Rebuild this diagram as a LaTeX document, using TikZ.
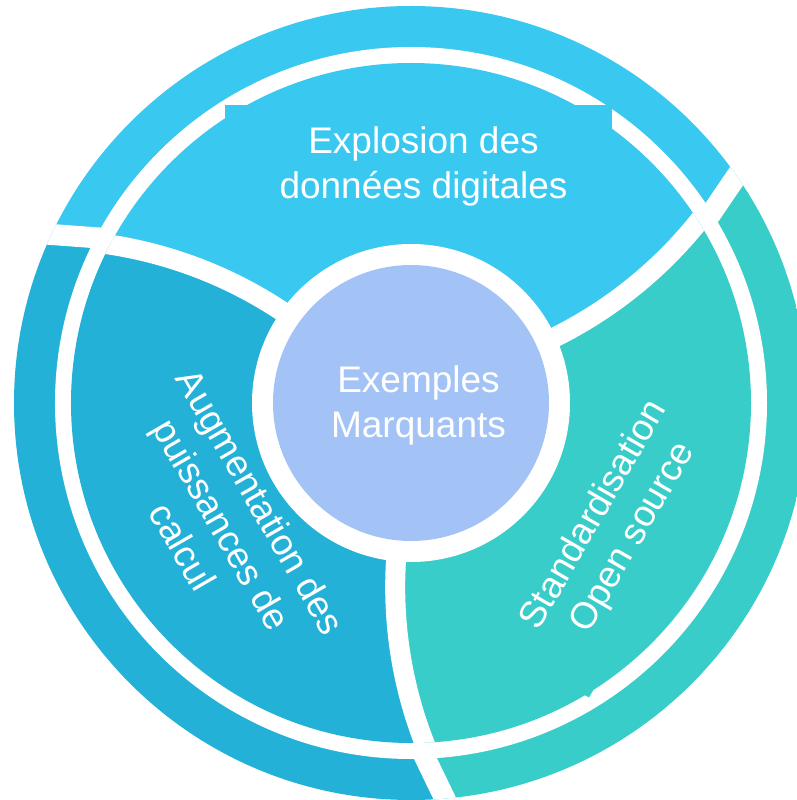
\documentclass[tikz,border=0pt]{standalone}
\usepackage{fontspec}
\setmainfont{Liberation Sans}
\definecolor{topc}{HTML}{38C8F0}
\definecolor{leftc}{HTML}{23B1D7}
\definecolor{rightc}{HTML}{39CDC9}
\definecolor{midc}{HTML}{A3C3F7}
\begin{document}
\begin{tikzpicture}[x=1pt,y=1pt,
  lbl/.style={text=white, font=\fontsize{37}{45}\selectfont, align=center, inner sep=0pt},
  outgap/.style={draw=white, line width=21pt},
  ingap/.style={draw=white, line width=20pt}]
\useasboundingbox (-411,-397) rectangle (385,403);
% gap coordinates (3-fold symmetric)
\foreach \r/\k in {0/a,-120/b,120/c}{
  \begin{scope}[rotate=\r]
    \coordinate (oq\k) at (-271,162);
    \coordinate (op\k) at (-403,171.7);
    \foreach \t/\n in {50/1,60/2,68/3,76/4,84/5,92/6}{
      \coordinate (i\k\n) at ({-366.6+430*cos(\t)},{-266.6+430*sin(\t)});
    }
  \end{scope}
}
% outer ring
\begin{scope}
  \clip (0,0) circle[radius=397];
  \fill[topc] (0,0) -- (oqb) -- (opb) -- (45:700) -- (95:700) -- (150:700) -- (opa) -- (oqa) -- cycle;
  \fill[leftc] (0,0) -- (oqa) -- (opa) -- (165:700) -- (215:700) -- (270:700) -- (opc) -- (oqc) -- cycle;
  \fill[rightc] (0,0) -- (oqc) -- (opc) -- (285:700) -- (335:700) -- (30:700) -- (opb) -- (oqb) -- cycle;
  \draw[outgap] (oqa) -- (opa);
  \draw[outgap] (oqb) -- (opb);
  \draw[outgap] (oqc) -- (opc);
\end{scope}
\fill[white] (0,0) circle[radius=356];
% inner sectors
\begin{scope}
  \clip (0,0) circle[radius=340];
  \fill[topc] (0,0) -- (ib1) -- (ib2) -- (ib3) -- (ib4) -- (ib5) -- (ib6) -- (45:700) -- (95:700) -- (150:700) -- (ia6) -- (ia5) -- (ia4) -- (ia3) -- (ia2) -- (ia1) -- cycle;
  \fill[leftc] (0,0) -- (ia1) -- (ia2) -- (ia3) -- (ia4) -- (ia5) -- (ia6) -- (165:700) -- (215:700) -- (270:700) -- (ic6) -- (ic5) -- (ic4) -- (ic3) -- (ic2) -- (ic1) -- cycle;
  \fill[rightc] (0,0) -- (ic1) -- (ic2) -- (ic3) -- (ic4) -- (ic5) -- (ic6) -- (285:700) -- (335:700) -- (30:700) -- (ib6) -- (ib5) -- (ib4) -- (ib3) -- (ib2) -- (ib1) -- cycle;
  \foreach \r in {0,-120,120}{
    \begin{scope}[rotate=\r]
      \draw[ingap] ({-366.6+430*cos(48)},{-266.6+430*sin(48)}) arc[start angle=48, end angle=94, radius=430];
    \end{scope}
  }
\end{scope}
% small notches of the text boxes
\fill[topc] (-185.7,250) rectangle (200.7,298);
\fill[rightc] (178,-294.5) -- ++(60:25) -- ++(150:25) -- ++(240:25) -- cycle;
% centre
\fill[white] (0,0) circle[radius=159];
\fill[midc] (0,0) circle[radius=138];
\node[lbl] (mid) at (7.5,-2) {Exemples\\Marquants};
\node[lbl] (toplbl) at (12.5,237) {Explosion des\\données digitales};
\node[lbl, rotate=-60] (leftlbl) at (-189,-121) {Augmentation des\\puissances de\\calcul};
\node[lbl, rotate=60] (rightlbl) at (203,-123.5) {Standardisation\\Open source};
\end{tikzpicture}
\end{document}
